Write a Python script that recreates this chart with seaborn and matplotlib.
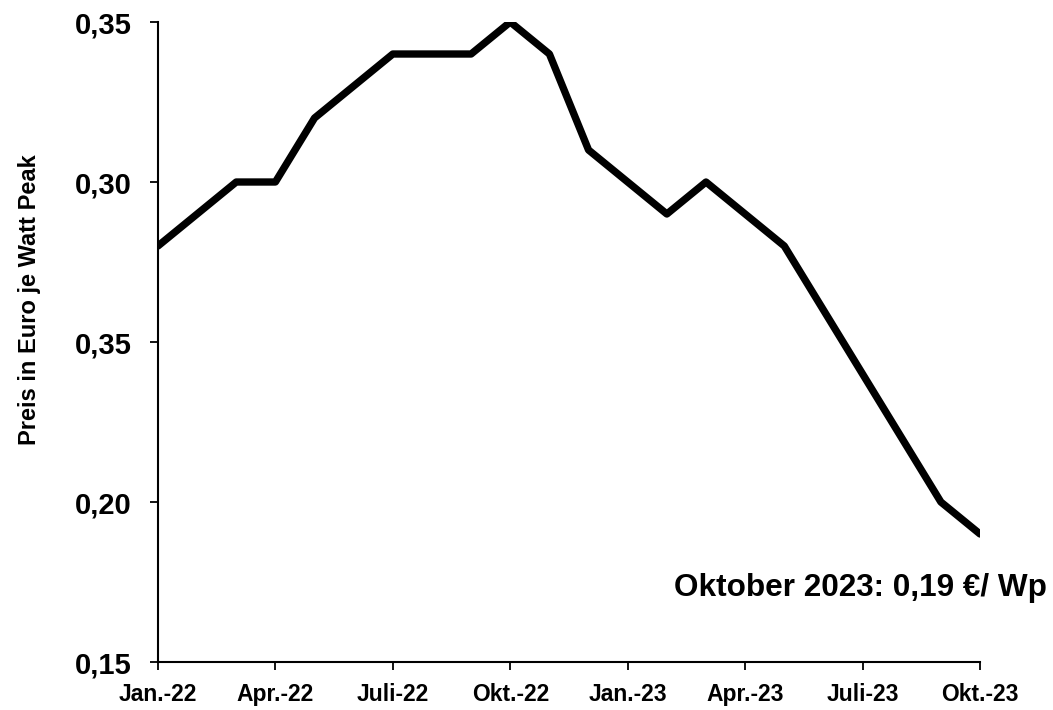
import matplotlib
matplotlib.use("Agg")
import matplotlib.pyplot as plt
import pandas as pd
import seaborn as sns

# monthly module prices, Jan. 2022 .. Okt. 2023
months = [
    "2022-01", "2022-02", "2022-03", "2022-04", "2022-05", "2022-06",
    "2022-07", "2022-08", "2022-09", "2022-10", "2022-11", "2022-12",
    "2023-01", "2023-02", "2023-03", "2023-04", "2023-05", "2023-06",
    "2023-07", "2023-08", "2023-09", "2023-10",
]
prices = [
    0.28, 0.29, 0.30, 0.30, 0.32, 0.33,
    0.34, 0.34, 0.34, 0.35, 0.34, 0.31,
    0.30, 0.29, 0.30, 0.29, 0.28, 0.26,
    0.24, 0.22, 0.20, 0.19,
]
xtick_labels = ["Jan.-22", "Apr.-22", "Juli-22", "Okt.-22",
                "Jan.-23", "Apr.-23", "Juli-23", "Okt.-23"]
ytick_values = [0.15, 0.20, 0.25, 0.30, 0.35]
ytick_labels = ["0,15", "0,20", "0,35", "0,30", "0,35"]
note = "Oktober 2023: 0,19 €/ Wp"

df = pd.DataFrame({"month": months, "price": prices})
df["idx"] = range(len(df))

sns.set_style("ticks")
plt.rcParams["font.family"] = ["Liberation Sans", "DejaVu Sans"]
plt.rcParams["font.weight"] = "bold"
plt.rcParams["text.color"] = "black"
plt.rcParams["axes.labelcolor"] = "black"

fig = plt.figure(figsize=(10.53, 7.10), dpi=100)
ax = fig.add_axes([0.150, 0.0676, 0.7807, 0.9014])

sns.lineplot(data=df, x="idx", y="price", ax=ax, color="black", linewidth=5.3)

ax.set_xlim(0, len(df) - 1)
ax.set_ylim(0.15, 0.35)
ax.set_xticks(df["idx"][::3])
ax.set_xticklabels(xtick_labels, fontsize=16.5, fontweight="bold")
ax.set_yticks(ytick_values)
ax.set_yticklabels(ytick_labels, fontsize=21, fontweight="bold")
ax.tick_params(axis="both", direction="out", length=6, width=1.3,
               colors="black", labelcolor="black")
ax.tick_params(axis="x", pad=9)
ax.tick_params(axis="y", pad=13)

for side in ("top", "right"):
    ax.spines[side].set_visible(False)
for side in ("left", "bottom"):
    ax.spines[side].set_linewidth(1.5)
    ax.spines[side].set_color("black")

ax.set_xlabel("")
ax.set_ylabel("Preis in Euro je Watt Peak", fontsize=17, fontweight="bold")
ax.yaxis.set_label_coords(-0.142, 0.567)

fig.text(0.994, 0.172, note, ha="right", va="center",
         fontsize=22.7, fontweight="bold")

fig.savefig("out.png", dpi=100)
plt.close()
